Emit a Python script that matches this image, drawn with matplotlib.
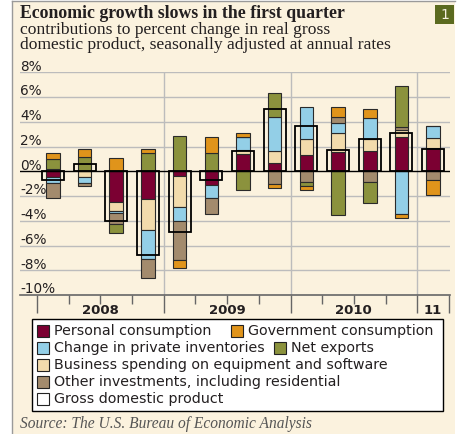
import numpy as np
import matplotlib.pyplot as plt
from matplotlib.patches import Rectangle

plt.rcParams['font.family'] = 'DejaVu Sans'

# contributions to % change in real GDP, 2008Q1 .. 2011Q1
quarters = ['2008Q1', '2008Q2', '2008Q3', '2008Q4', '2009Q1', '2009Q2', '2009Q3',
            '2009Q4', '2010Q1', '2010Q2', '2010Q3', '2010Q4', '2011Q1']
personal = [-0.45, 0.0, -2.45, -2.27, -0.35, -1.1, 1.43, 0.68, 1.3, 1.57, 1.65, 2.75, 1.92]
business = [0.22, -0.45, -0.8, -2.46, -2.5, 0.0, 0.27, 0.95, 1.27, 1.5, 0.92, 0.6, 0.8]
inventories = [-0.5, -0.5, -0.1, -2.35, -1.13, -1.03, 1.08, 2.78, 2.65, 0.8, 1.7, -3.45, 0.93]
other = [-1.25, -0.27, -0.95, -1.54, -3.2, -1.35, 0.0, -1.0, -0.86, 0.54, -0.86, 0.25, -0.72]
net_exports = [0.8, 1.15, -0.65, 1.5, 2.86, 1.5, -1.54, 1.95, -0.3, -3.5, -1.68, 3.3, 0.0]
government = [0.45, 0.65, 1.05, 0.3, -0.62, 1.24, 0.35, -0.35, -0.32, 0.8, 0.8, -0.3, -1.16]
gdp = [-0.7, 0.6, -4.0, -6.8, -4.9, -0.7, 1.6, 5.0, 3.7, 1.7, 2.6, 3.1, 1.8]

year_labels = ['2008', '2009', '2010', '11']
year_centres = [1.5, 5.5, 9.5, 12.0]
y_ticks = [8, 6, 4, 2, 0, -2, -4, -6, -8, -10]

series = [personal, business, inventories, other, net_exports, government]
colours = ['#7b0032', '#f2dbac', '#93cfe7', '#a38b6d', '#8b923d', '#e0941b']

cream = '#fbf2de'
W, H = 458, 434

fig = plt.figure(figsize=(W / 100, H / 100), dpi=100)
fig.patch.set_facecolor('white')

# full-figure canvas in pixel units for panel, titles and legend
cv = fig.add_axes([0, 0, 1, 1], zorder=0)
cv.set_xlim(0, W)
cv.set_ylim(H, 0)
cv.axis('off')
cv.add_patch(Rectangle((12, 1), 443, 433, facecolor=cream, edgecolor='none'))
cv.plot([12, 12], [1, H], color='#9a9a9a', lw=1)
cv.plot([12, 455], [1, 1], color='#9a9a9a', lw=1)

cv.text(20, 18, 'Economic growth slows in the first quarter', fontsize=12.8,
        fontweight='bold', family='Liberation Serif', color='#231f20', va='baseline')
cv.text(20, 34, 'contributions to percent change in real gross', fontsize=12.6,
        family='Liberation Serif', color='#231f20', va='baseline')
cv.text(20, 49, 'domestic product, seasonally adjusted at annual rates', fontsize=12.6,
        family='Liberation Serif', color='#231f20', va='baseline')
cv.add_patch(Rectangle((435, 5), 19, 19, facecolor='#5b6a1f', edgecolor='none'))
cv.text(444.5, 15, '1', fontsize=10, color='#f4f0e0', ha='center', va='center')

# legend
cv.add_patch(Rectangle((32, 319), 411, 92, facecolor='white', edgecolor='black', lw=1))
entries = [
    ('Personal consumption', colours[0], 37, 54, 331),
    ('Government consumption', colours[5], 231, 248, 331),
    ('Change in private inventories', colours[2], 37, 54, 348),
    ('Net exports', colours[4], 274, 291, 348),
    ('Business spending on equipment and software', colours[1], 37, 54, 365),
    ('Other investments, including residential', colours[3], 37, 54, 382),
    ('Gross domestic product', 'white', 37, 54, 399),
]
for label, col, sx, tx, cy in entries:
    cv.add_patch(Rectangle((sx, cy - 6), 12, 12, facecolor=col, edgecolor='#222222', lw=0.8))
    cv.text(tx, cy, label, fontsize=10.3, color='#231f20', va='center')

cv.text(20, 424, 'Source: The U.S. Bureau of Economic Analysis', fontsize=11.2,
        family='Liberation Serif', style='italic', color='#555555', va='center')

# chart
ax = fig.add_axes([20 / W, 1 - 295 / H, 430 / W, (295 - 72.3) / H], zorder=1)
ax.set_facecolor('none')
ax.set_xlim(-1.04, 12.535)
ax.set_ylim(-10, 8)

x = np.arange(len(quarters))
pos_base = np.zeros(len(x))
neg_base = np.zeros(len(x))
for vals, col in zip(series, colours):
    v = np.array(vals)
    bottom = np.where(v >= 0, pos_base, neg_base)
    ax.bar(x, v, bottom=bottom, width=0.43, color=col, edgecolor='#2a2a2a', lw=0.8, zorder=3)
    pos_base += np.where(v >= 0, v, 0)
    neg_base += np.where(v < 0, v, 0)
ax.bar(x, gdp, width=0.70, fill=False, edgecolor='black', lw=1.3, zorder=4)

for yv in y_ticks:
    if yv == 0:
        ax.axhline(0, color='black', lw=1, zorder=5)
    elif yv != -10:
        ax.axhline(yv, color='#bcbcbc', lw=1, zorder=1)
    ax.annotate('%d%%' % yv, xy=(0, yv), xycoords=('axes fraction', 'data'),
                xytext=(0, 1.2), textcoords='offset points', fontsize=9.8,
                color='#231f20', va='baseline', ha='left')
for xv in [3.5, 7.5, 11.5]:
    ax.axvline(xv, color='#bcbcbc', lw=1, zorder=1)

for s in ['top', 'right', 'left']:
    ax.spines[s].set_visible(False)
ax.spines['bottom'].set_color('#666666')
ax.spines['bottom'].set_linewidth(1.2)
ax.set_yticks([])
ax.set_xticks([-0.5, 3.5, 7.5, 11.5, 12.5])
ax.set_xticks([b - 0.5 for b in range(1, 13) if b not in (4, 8, 12)], minor=True)
ax.tick_params(axis='x', which='major', length=13, width=1, color='#666666', labelbottom=False)
ax.tick_params(axis='x', which='minor', length=6.5, width=1, color='#666666')

for lab, c in zip(year_labels, year_centres):
    ax.annotate(lab, xy=(c, 0), xycoords=('data', 'axes fraction'), xytext=(0, -11.5),
                textcoords='offset points', fontsize=9.5, fontweight='bold',
                color='#231f20', ha='center', va='center')

fig.savefig('out.png', dpi=100)
